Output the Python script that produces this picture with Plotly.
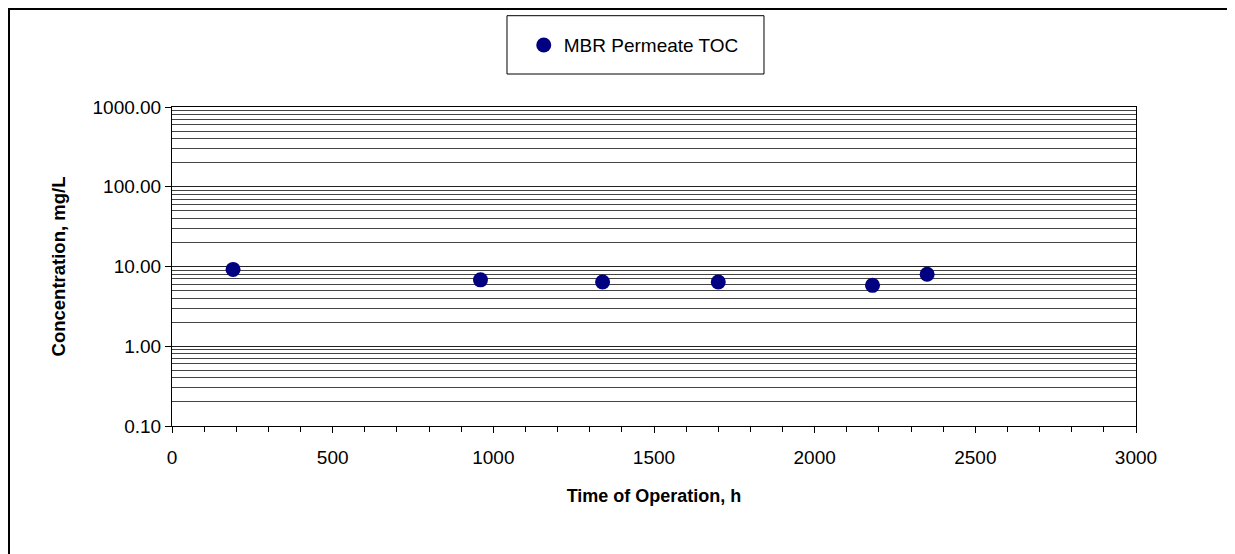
import plotly.graph_objects as go

# Daten
time_h = [190, 960, 1340, 1700, 2180, 2350]
toc_mgl = [9.2, 6.8, 6.4, 6.4, 5.8, 8.0]

y_tickvals = [0.1, 1, 10, 100, 1000]
y_ticktext = ["0.10", "1.00", "10.00", "100.00", "1000.00"]
y_minor = [m * 10 ** e for e in range(-1, 3) for m in range(2, 10)]

font = "Arial, Liberation Sans, sans-serif"

fig = go.Figure()
fig.add_trace(go.Scatter(
    x=time_h, y=toc_mgl, mode="markers", name="MBR Permeate TOC",
    marker=dict(color="#000080", size=15),
))

# Seite hat 8px body-Rand -> Ränder entsprechend kleiner
fig.update_layout(
    width=1235, height=554,
    margin=dict(l=164, r=107, t=99, b=136),
    paper_bgcolor="white", plot_bgcolor="white",
    font=dict(family=font, size=19, color="black"),
    showlegend=True,
    legend=dict(x=0.479, xanchor="center", y=1.194, yanchor="middle",
                bgcolor="rgba(0,0,0,0)", font=dict(size=19)),
    xaxis=dict(
        range=[0, 3000], dtick=500, showgrid=False, zeroline=False,
        showline=True, linecolor="black", linewidth=1, mirror=True,
        ticks="outside", ticklen=6, tickcolor="black", ticklabelstandoff=8,
        minor=dict(dtick=100, ticks="outside", ticklen=5, tickcolor="black"),
        title=dict(text="<b>Time of Operation, h</b>", standoff=22,
                   font=dict(size=18)),
    ),
    yaxis=dict(
        type="log", range=[-1, 3], tickvals=y_tickvals, ticktext=y_ticktext,
        showgrid=True, gridcolor="#222", gridwidth=1, zeroline=False,
        showline=True, linecolor="black", linewidth=1, mirror=True,
        ticks="outside", ticklen=6, tickcolor="black",
        minor=dict(tickvals=y_minor, showgrid=True, gridcolor="#444",
                   gridwidth=1, ticks=""),
        title=dict(text="<b>Concentration, mg/L</b>", standoff=22,
                   font=dict(size=18.5)),
    ),
    shapes=[
        # äußerer Rahmen (Figur beginnt 8px vom Fensterrand)
        dict(type="rect", xref="paper", yref="paper",
             x0=-0.1691, x1=1.1006, y0=-1, y1=1.3072,
             line=dict(color="black", width=2), layer="below"),
        dict(type="rect", xref="paper", yref="paper",
             x0=0.3475, x1=0.6141, y0=1.1034, y1=1.2862,
             line=dict(color="black", width=1)),
    ],
)

fig.write_html("out.html")
